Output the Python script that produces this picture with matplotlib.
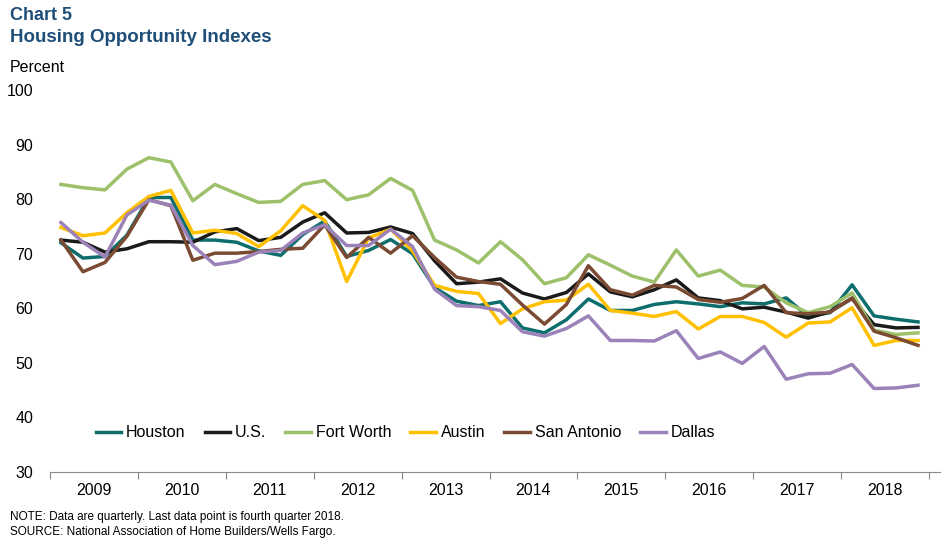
import matplotlib
matplotlib.use("Agg")
import matplotlib.pyplot as plt
import numpy as np

plt.rcParams['font.family'] = ['Liberation Sans', 'DejaVu Sans']

years = list(range(2009, 2019))
houston = [72.0, 69.2, 69.5, 73.4, 80.3, 80.3, 72.5, 72.5, 72.1, 70.5, 69.7, 73.5, 76.0, 69.5, 70.6, 72.6, 70.0, 63.8, 61.3, 60.5,
           61.2, 56.4, 55.5, 57.9, 61.7, 59.6, 59.6, 60.7, 61.2, 60.8, 60.3, 61.0, 60.8, 61.9, 58.5, 59.2, 64.3, 58.6, 58.0, 57.5]
us = [72.5, 72.1, 70.3, 70.9, 72.2, 72.2, 72.1, 74.0, 74.6, 72.4, 73.0, 75.8, 77.5, 73.8, 73.9, 74.9, 73.7, 68.7, 64.5, 64.8,
      65.4, 62.8, 61.7, 62.9, 66.3, 63.0, 62.1, 63.4, 65.2, 61.9, 61.4, 59.9, 60.2, 59.3, 58.2, 59.4, 61.8, 57.0, 56.4, 56.5]
fort_worth = [82.7, 82.1, 81.7, 85.5, 87.6, 86.8, 79.7, 82.7, 81.0, 79.4, 79.6, 82.7, 83.4, 79.9, 80.8, 83.8, 81.6, 72.5, 70.7, 68.3,
              72.2, 68.9, 64.5, 65.6, 69.8, 67.9, 65.9, 64.8, 70.7, 65.9, 67.0, 64.2, 63.9, 61.0, 59.2, 60.3, 62.8, 56.0, 55.2, 55.5]
austin = [74.8, 73.3, 73.8, 77.5, 80.5, 81.6, 73.8, 74.3, 73.7, 71.3, 74.2, 78.8, 76.1, 64.9, 72.9, 74.5, 70.5, 64.2, 63.1, 62.7,
          57.2, 59.9, 61.2, 61.5, 64.4, 59.6, 59.1, 58.5, 59.4, 56.2, 58.5, 58.5, 57.4, 54.7, 57.3, 57.5, 60.1, 53.2, 54.1, 54.1]
san_antonio = [72.5, 66.7, 68.4, 73.2, 79.9, 78.8, 68.8, 70.1, 70.1, 70.4, 70.8, 71.0, 75.3, 69.3, 73.0, 70.1, 73.3, 69.3, 65.7, 64.9,
               64.4, 60.6, 57.1, 60.7, 67.8, 63.4, 62.4, 64.2, 63.9, 61.6, 61.1, 61.8, 64.2, 59.2, 59.0, 59.3, 61.9, 55.8, 54.6, 53.2]
dallas = [75.7, 72.1, 69.4, 77.1, 79.8, 78.9, 71.5, 68.0, 68.6, 70.3, 70.6, 73.8, 75.3, 71.5, 71.5, 74.5, 71.3, 63.5, 60.5, 60.3,
          59.6, 55.7, 54.9, 56.3, 58.6, 54.1, 54.1, 54.0, 55.9, 50.8, 52.0, 49.9, 53.0, 47.0, 48.0, 48.1, 49.7, 45.3, 45.4, 45.9]

series = [("Houston", houston, "#0E6E6E"), ("U.S.", us, "#1A1A1A"), ("Fort Worth", fort_worth, "#9DC16A"),
          ("Austin", austin, "#FFC000"), ("San Antonio", san_antonio, "#7B4A32"), ("Dallas", dallas, "#9B82B8")]

fig = plt.figure(figsize=(9.49, 5.41), dpi=100)
ax = fig.add_axes([50/949, 1-472/541, 890/949, 382/541])
q = np.arange(len(houston))
for name, vals, col in series:
    ax.plot(q, vals, color=col, lw=2.5, label=name)

ax.set_xlim(-0.45, 40)
ax.set_ylim(30, 100)
ax.set_yticks(range(30, 101, 10))
ax.set_xticks([-0.5 + 4*i for i in range(11)], minor=False)
ax.set_xticklabels([])
ax.set_xticks([1.5 + 4*i for i in range(10)], minor=True)
ax.set_xticklabels([str(y) for y in years], minor=True, fontsize=11.5)
ax.tick_params(axis='x', which='minor', length=0, pad=8)
ax.tick_params(axis='x', which='major', length=5, color='#888888', direction='out')
ax.tick_params(axis='y', length=0, labelsize=11.5, pad=12)
for s in ['top', 'right', 'left']:
    ax.spines[s].set_visible(False)
ax.spines['bottom'].set_color('#888888')

ax.legend(loc='lower left', bbox_to_anchor=(0.035, 0.045), ncol=6, frameon=False, fontsize=11.5,
          handlelength=1.6, columnspacing=1.2, handletextpad=0.3)

fig.text(10/949, 1-16/541, "Chart 5", fontsize=13, fontweight='bold', color='#1F4E79', va='center')
fig.text(10/949, 1-37/541, "Housing Opportunity Indexes", fontsize=13.5, fontweight='bold', color='#1F4E79', va='center')
fig.text(10/949, 1-67/541, "Percent", fontsize=11.5, va='center')
fig.text(10/949, 1-517/541, "NOTE: Data are quarterly. Last data point is fourth quarter 2018.", fontsize=8.5, va='center')
fig.text(10/949, 1-532/541, "SOURCE: National Association of Home Builders/Wells Fargo.", fontsize=8.5, va='center')

fig.savefig("out.png", dpi=100)
